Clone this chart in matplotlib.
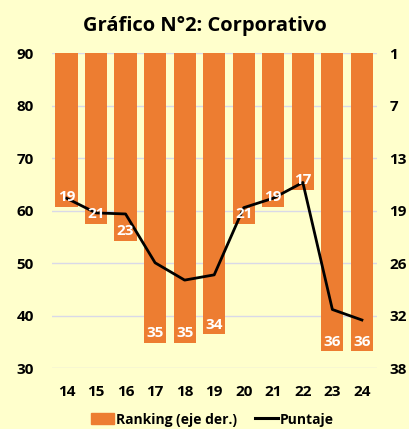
import matplotlib.pyplot as plt
import numpy as np
from matplotlib.patches import Patch
from matplotlib.lines import Line2D

# datos del grafico
anios = ['14', '15', '16', '17', '18', '19', '20', '21', '22', '23', '24']
ranking = [19, 21, 23, 35, 35, 34, 21, 19, 17, 36, 36]
puntaje = [62.4, 59.6, 59.4, 50.1, 46.8, 47.8, 60.6, 62.4, 65.4, 41.2, 39.2]
ticks_izq = [30, 40, 50, 60, 70, 80, 90]
ticks_der = ['1', '7', '13', '19', '26', '32', '38']

fondo = '#FFFFCC'
naranjo = '#ED7D31'

plt.rcParams['font.family'] = ['Open Sans', 'DejaVu Sans']
plt.rcParams['font.weight'] = 'bold'

fig = plt.figure(figsize=(4.09, 4.29), dpi=100, facecolor=fondo)
ax = fig.add_axes([0.1264, 0.1415, 0.7946, 0.7342])
ax2 = ax.twinx()

x = np.arange(len(anios))


def rank_a_puntaje(r):
    # posicion del ranking (eje der. 1..38 invertido) en el eje izquierdo
    return 90 - (r - 1) * 60 / 37


# eje derecho: ranking invertido de 1 a 38
ax2.set_ylim(38, 1)
ax2.bar(x, np.array(ranking) - 1, bottom=1, width=0.75, color=naranjo, zorder=2)
ax2.set_yticks(np.linspace(1, 38, 7))
ax2.set_yticklabels(ticks_der)
ax2.patch.set_facecolor(fondo)
for v in ticks_izq:
    ax2.axhline(1 + (90 - v) * 37 / 60, color='#D9D9E8', linewidth=1, zorder=0)

# eje izquierdo: puntaje, encima de las barras
ax.set_zorder(ax2.get_zorder() + 1)
ax.patch.set_visible(False)
ax.set_ylim(30, 90)
ax.set_yticks(ticks_izq)
ax.set_xlim(-0.5, len(anios) - 0.5)
ax.set_xticks(x)
ax.set_xticklabels(anios)
ax.plot(x, puntaje, color='black', linewidth=2, zorder=3)

# etiquetas del ranking sobre la linea
for xi, r in zip(x, ranking):
    ax.text(xi, rank_a_puntaje(r) + 0.5, str(r), ha='center', va='bottom',
            color='white', fontsize=11, fontweight='bold', zorder=5)

for a in (ax, ax2):
    for s in a.spines.values():
        s.set_visible(False)
    a.tick_params(length=0, labelsize=11)
ax.tick_params(axis='y', pad=13)
ax2.tick_params(axis='y', pad=9)
ax.tick_params(axis='x', pad=12)

fig.text(0.5, 0.94, 'Gráfico N°2: Corporativo', ha='center', va='center',
         fontsize=14.5, fontweight='bold')

manejadores = [Patch(color=naranjo), Line2D([0], [0], color='black', linewidth=2.2)]
fig.legend(manejadores, ['Ranking (eje der.)', 'Puntaje'], loc='center',
           bbox_to_anchor=(0.52, 0.022), ncol=2, frameon=False, fontsize=10,
           handlelength=1.65, handleheight=0.8, handletextpad=0.15, columnspacing=1.3)

fig.savefig('out.png', dpi=100, facecolor=fondo)
